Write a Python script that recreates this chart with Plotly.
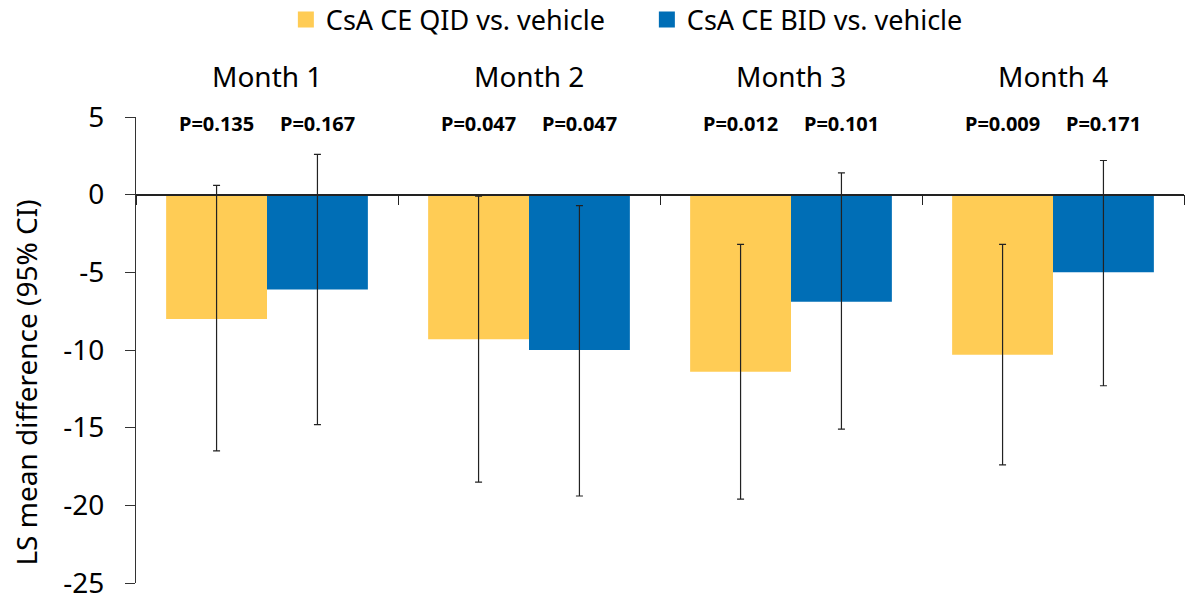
import plotly.graph_objects as go

months = ["Month 1", "Month 2", "Month 3", "Month 4"]
qid_vals = [-8.0, -9.3, -11.4, -10.3]
qid_upper = [0.6, -0.1, -3.2, -3.2]
qid_lower = [-16.5, -18.5, -19.6, -17.4]
bid_vals = [-6.1, -10.0, -6.9, -5.0]
bid_upper = [2.6, -0.7, 1.4, 2.2]
bid_lower = [-14.8, -19.4, -15.1, -12.3]
qid_p = ["P=0.135", "P=0.047", "P=0.012", "P=0.009"]
bid_p = ["P=0.167", "P=0.047", "P=0.101", "P=0.171"]
yticks = [5, 0, -5, -10, -15, -20, -25]
yticktext = ["5", "0", "-5", "-10", "-15", "-20", "-25"]
series_names = ["CsA CE QID vs. vehicle", "CsA CE BID vs. vehicle"]

YELLOW = "#FFCC55"
BLUE = "#006EB6"
FONT = "Noto Sans"

x = list(range(len(months)))

fig = go.Figure()
for vals, up, lo, col in [(qid_vals, qid_upper, qid_lower, YELLOW),
                          (bid_vals, bid_upper, bid_lower, BLUE)]:
    fig.add_trace(go.Bar(
        x=x, y=vals, marker_color=col, marker_line_width=0, showlegend=False,
        error_y=dict(type="data", symmetric=False,
                     array=[u - v for u, v in zip(up, vals)],
                     arrayminus=[v - l for l, v in zip(lo, vals)],
                     color="#222222", thickness=1.2, width=3.5),
    ))

# legend entries with larger square swatches
for name, col in zip(series_names, [YELLOW, BLUE]):
    fig.add_trace(go.Scatter(
        x=[None], y=[None], mode="markers", name=name,
        marker=dict(symbol="square", size=18, color=col),
    ))

# P-value labels
for i in x:
    for dx, lab in [(-0.193, qid_p[i]), (0.193, bid_p[i])]:
        fig.add_annotation(x=i + dx, y=4.6, xref="x", yref="y", text=lab,
                           showarrow=False, yanchor="middle",
                           font=dict(family=FONT, size=20, color="black", weight="bold"))

# Month labels
for i, m in enumerate(months):
    fig.add_annotation(x=i, y=1.088, xref="x", yref="paper", text=m,
                       showarrow=False, yanchor="middle",
                       font=dict(family=FONT, size=28, color="black"))

# y-axis title
fig.add_annotation(x=0, xref="paper", xshift=-110, y=0.43, yref="paper",
                   text="LS mean difference (95% CI)", textangle=-90,
                   showarrow=False, xanchor="center", yanchor="middle",
                   font=dict(family=FONT, size=28, color="black"))

fig.update_layout(
    width=1187, height=605,
    paper_bgcolor="white", plot_bgcolor="white",
    margin=dict(l=136, r=3, t=117, b=22, autoexpand=False),
    barmode="group", bargap=0.23, bargroupgap=0,
    font=dict(family=FONT, color="black"),
    legend=dict(orientation="h", x=0.143, xanchor="left", y=1.208, yanchor="middle",
                yref="paper", font=dict(family=FONT, size=27, color="black"),
                entrywidth=316, entrywidthmode="pixels", traceorder="normal",
                bgcolor="rgba(0,0,0,0)"),
    xaxis=dict(range=[-0.5, 3.5], tickmode="array", tickvals=[-0.5, 0.5, 1.5, 2.5, 3.5],
               ticktext=["", "", "", "", ""], ticks="outside", ticklen=10,
               tickcolor="#222222", showline=True, linecolor="#222222", linewidth=1.5,
               showgrid=False, zeroline=False, anchor="free", position=25 / 30,
               automargin=False),
    yaxis=dict(range=[-25, 5], tickmode="array", tickvals=yticks, ticktext=yticktext,
               ticks="outside", ticklen=10, tickcolor="#333333",
               showline=True, linecolor="#333333", linewidth=1,
               showgrid=False, zeroline=False, automargin=False,
               ticklabelstandoff=15, ticklabeloverflow="allow",
               tickfont=dict(family=FONT, size=28, color="black")),
)

fig.write_html("out.html", config={"displayModeBar": False},
               post_script="document.body.style.margin='0';document.body.style.padding='0';")
